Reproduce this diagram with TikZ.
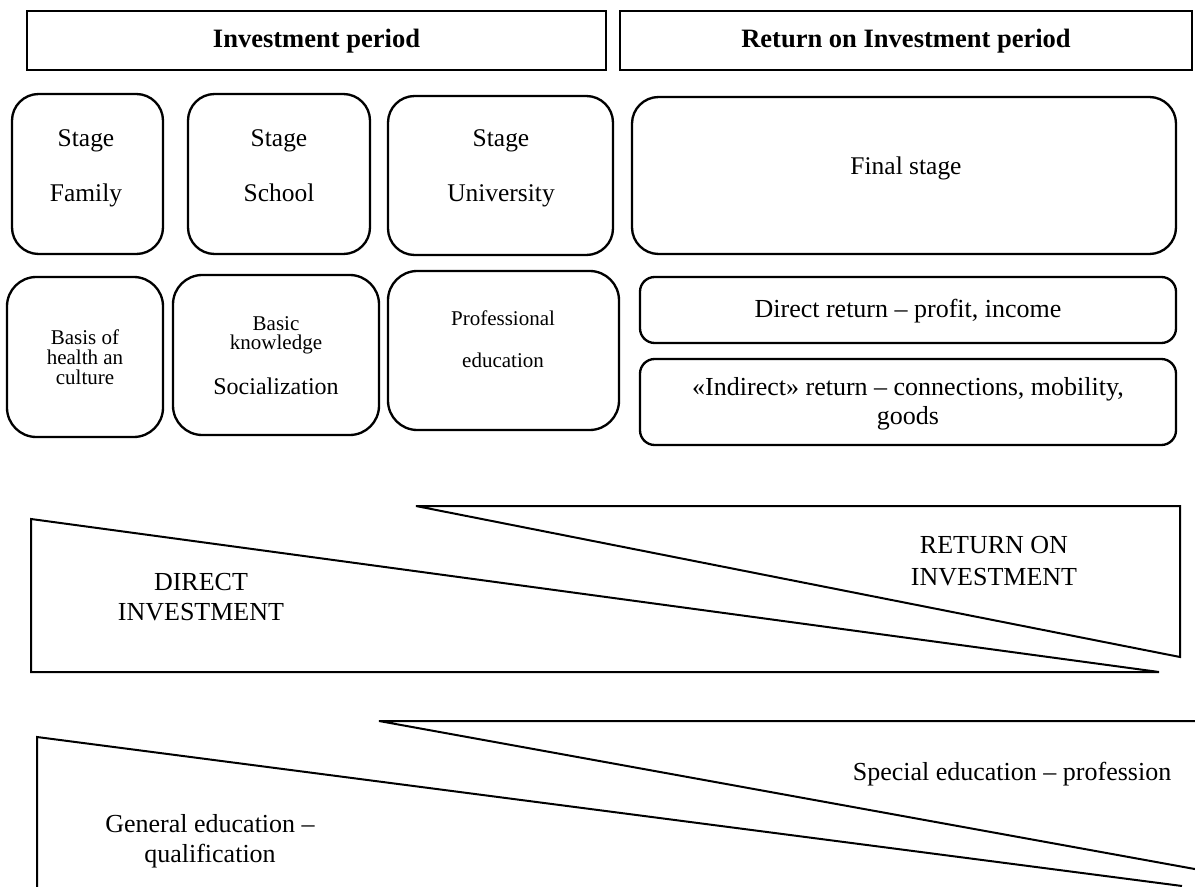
\documentclass[tikz,border=0pt]{standalone}
\usepackage{fontspec}
\setmainfont{Liberation Serif}
\usetikzlibrary{fit}
\begin{document}
\begin{tikzpicture}[x=0.75pt,y=-0.75pt,
  hdrbox/.style={draw, line width=1.9pt, inner sep=0pt},
  hdrtxt/.style={inner sep=0pt, font=\fontsize{19.9pt}{24pt}\selectfont\bfseries},
  stagebox/.style={draw, line width=1.75pt, rounded corners=20pt, inner sep=0pt},
  resbox/.style={draw, line width=1.75pt, rounded corners=11pt, inner sep=0pt},
  wedge/.style={draw, line width=1.5pt, line join=miter},
  stagetxt/.style={align=center, inner sep=0pt, font=\fontsize{19.1pt}{41.25pt}\selectfont},
  bigtxt/.style={align=center, inner sep=0pt, font=\fontsize{19.5pt}{23.4pt}\selectfont},
  smalltxt/.style={align=center, inner sep=0pt, font=\fontsize{15.75pt}{15pt}\selectfont}]

\useasboundingbox (0,0) rectangle (1195,887);

% period headers
\node[hdrbox, fit={(27,11)(606,70)}] (hinv) {};
\node[hdrbox, fit={(620,11)(1192,70)}] (hret) {};
\node[hdrtxt] (thinv) at (316.5,41) {Investment period};
\node[hdrtxt] (thret) at (906,41) {Return on Investment period};

% stages
\node[stagebox, fit={(12,94)(163,254)}] (sfam) {};
\node[stagebox, fit={(188,94)(370,254)}] (ssch) {};
\node[stagebox, fit={(388,96)(613,255)}] (suni) {};
\node[stagebox, fit={(632,97)(1176,254)}] (sfin) {};
\node[stagetxt] (tfam) at (86,168.5) {Stage\\Family};
\node[stagetxt] (tsch) at (279,165.5) {Stage\\School};
\node[stagetxt] (tuni) at (501,168.5) {Stage\\University};
\node[stagetxt] (tfin) at (906,168) {Final stage};

% what each stage gives
\node[stagebox, rounded corners=22pt, fit={(7,277)(163,437)}] (rbasis) {};
\node[stagebox, rounded corners=22pt, fit={(173,275)(379,435)}] (rbasic) {};
\node[stagebox, rounded corners=22pt, fit={(388,271)(619,430)}] (rprof) {};
\node[resbox, fit={(640,277)(1176,343)}] (rdir) {};
\node[resbox, fit={(640,359)(1176,445)}] (rind) {};
\node[smalltxt] (tbasis) at (85,357) {Basis of\\health an\\culture};
\node[smalltxt, font=\fontsize{15.75pt}{14.25pt}\selectfont] (tbasic) at (276,335.5) {Basic\\knowledge};
\node[bigtxt, font=\fontsize{18pt}{21pt}\selectfont] (tsoc) at (276,386) {Socialization};
\node[smalltxt, font=\fontsize{15.75pt}{31.5pt}\selectfont] (tprof) at (503,339) {Professional\\education};
\node[bigtxt] (tdir) at (908,311) {Direct return – profit, income};
\node[bigtxt] (tind) at (908,404) {«Indirect» return – connections, mobility,\\[-1.4pt]goods};

% investment and return wedges
\begin{scope}
\clip (0,0) rectangle (1195,887);
\draw[wedge] (416,506) -- (1180,506) -- (1180,657) -- cycle;
\draw[wedge] (31,519) -- (31,672) -- (1159,672) -- cycle;
\draw[wedge] (1230,721) -- (379,721) -- (1230,875.4);
\draw[wedge] (37,900) -- (37,737) -- (1182,886);
\end{scope}
\node[bigtxt, font=\fontsize{19.5pt}{22.5pt}\selectfont] (tdi) at (201,597) {DIRECT\\INVESTMENT};
\node[bigtxt, font=\fontsize{19.5pt}{24pt}\selectfont] (troi) at (994,561) {RETURN ON\\INVESTMENT};
\node[bigtxt] (tspec) at (1012,774) {Special education – profession};
\node[bigtxt, font=\fontsize{19.5pt}{22.5pt}\selectfont] (tgen) at (210,841) {General education –\\qualification};
\end{tikzpicture}
\end{document}
